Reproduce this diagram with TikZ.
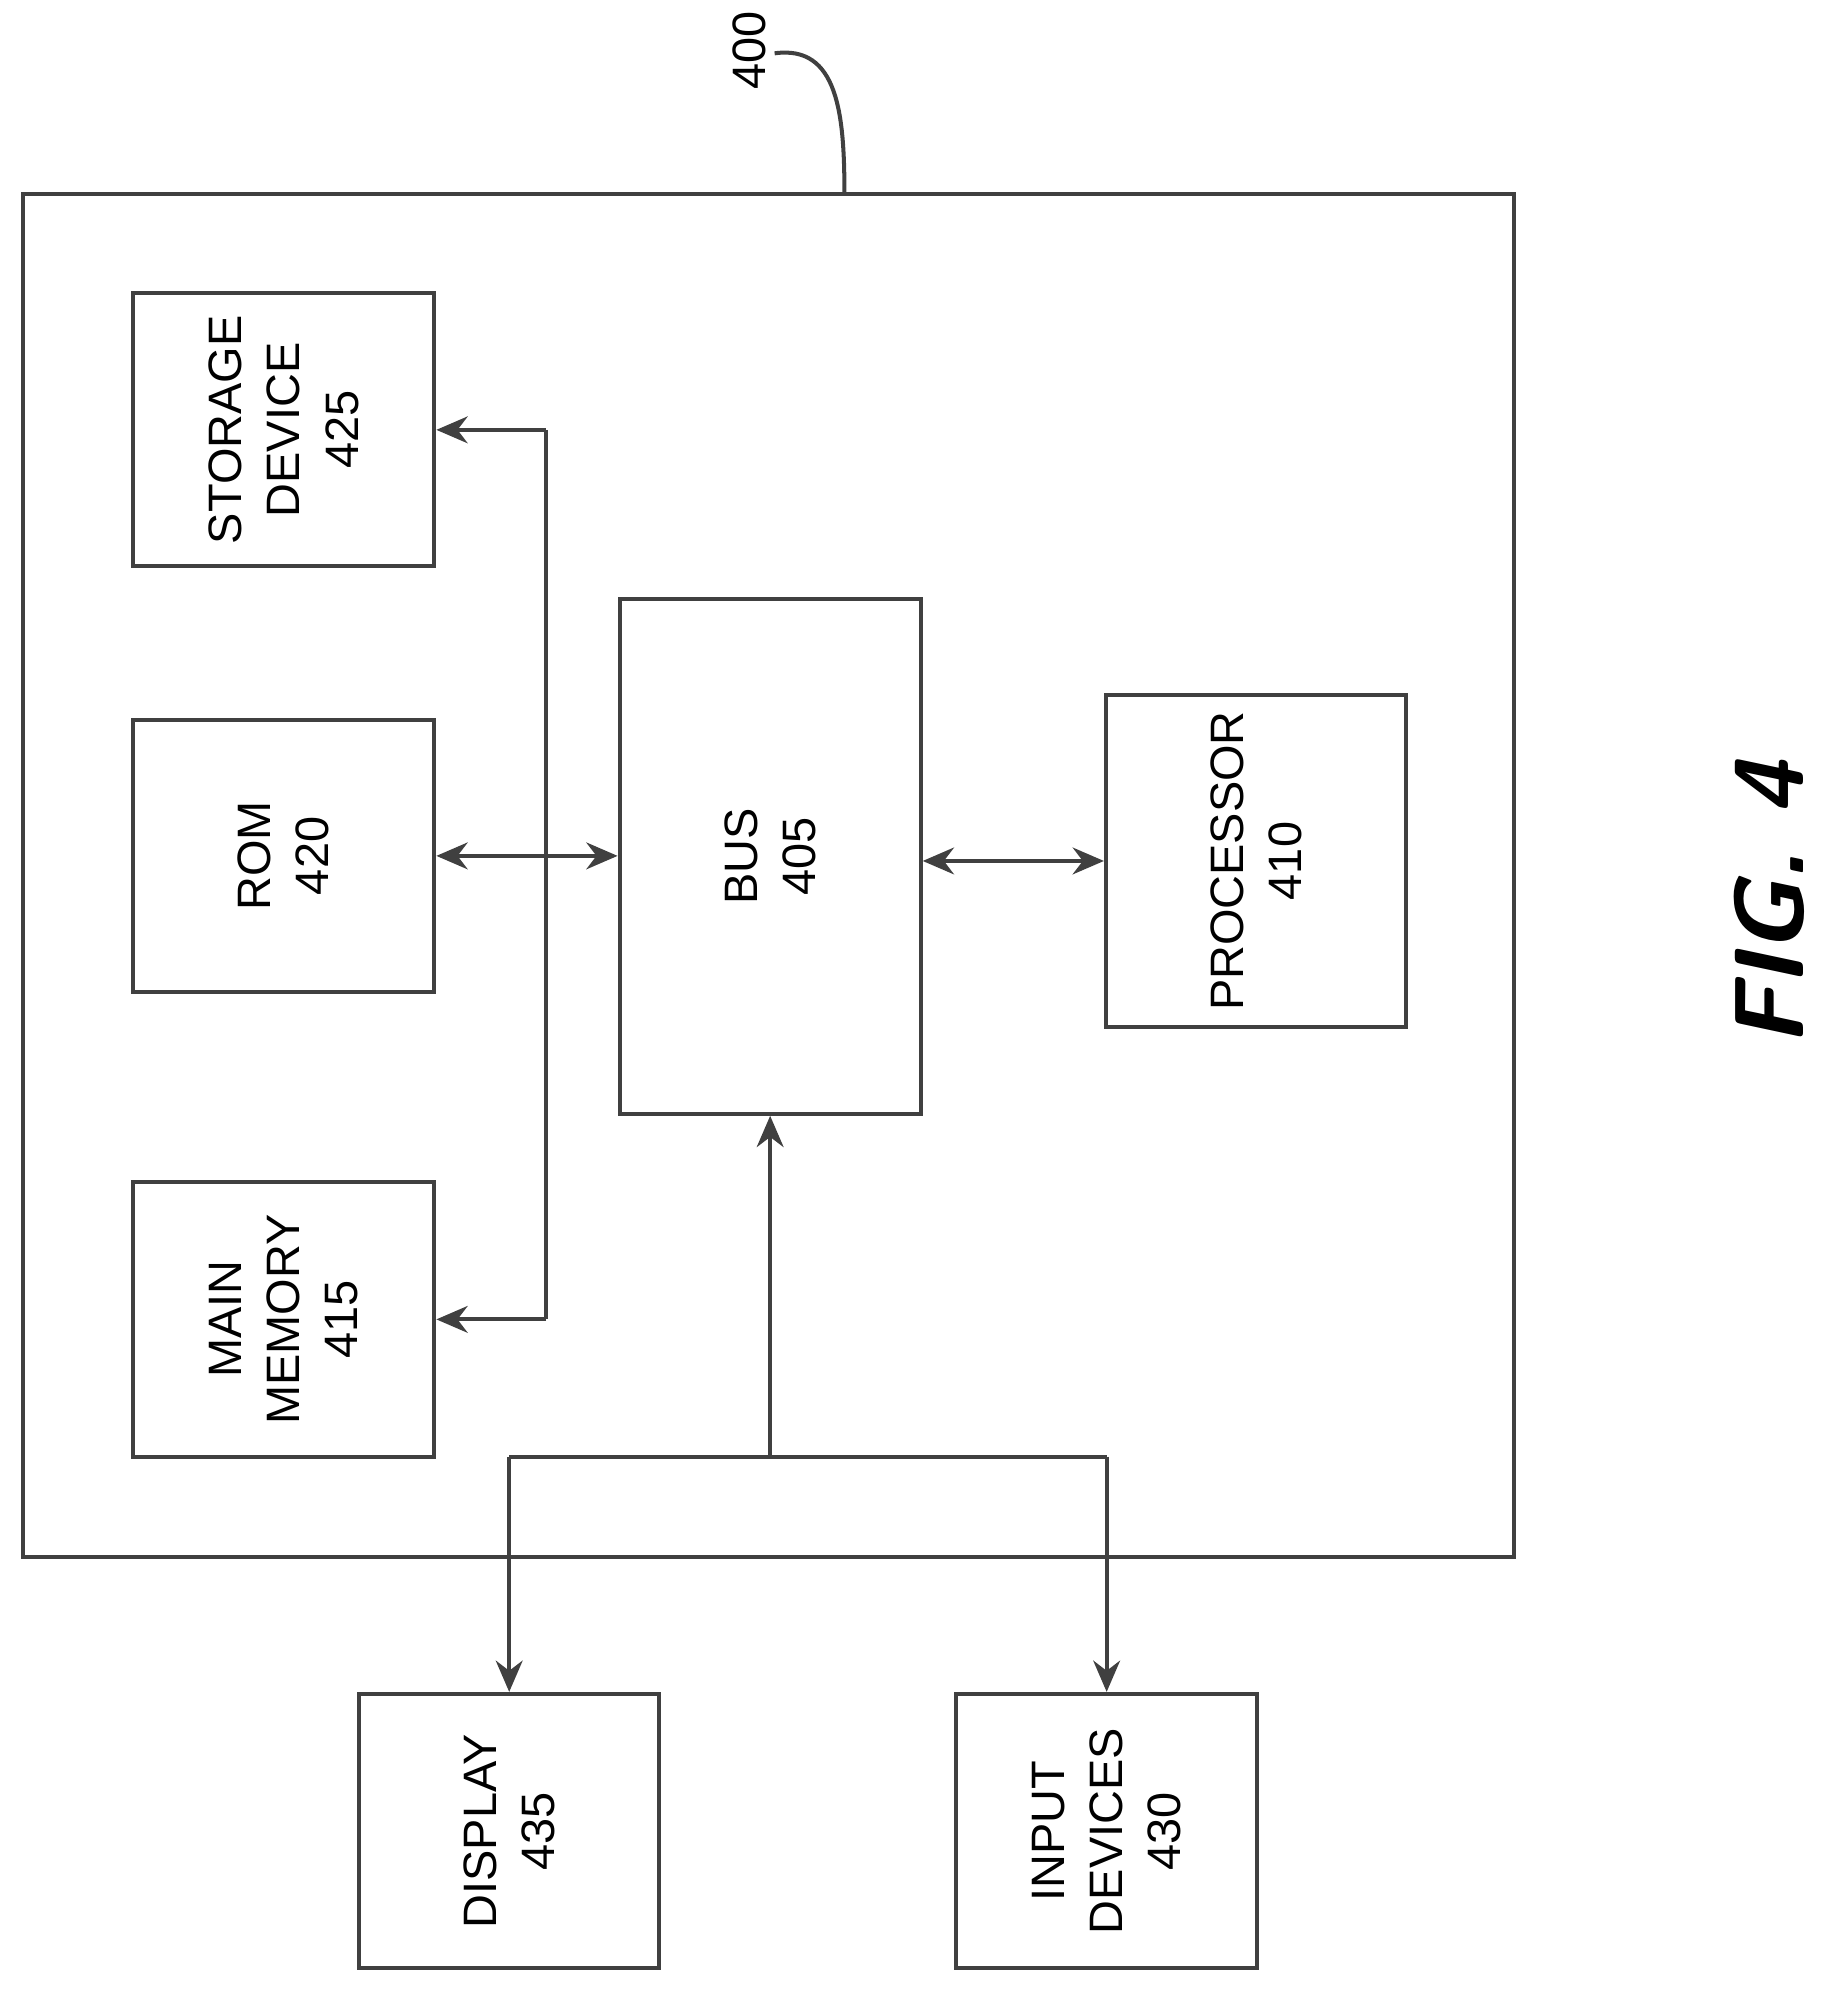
\documentclass[tikz,border=0pt]{standalone}
\usepackage{fontspec}
\setmainfont{Liberation Sans}
\usetikzlibrary{arrows.meta}

\begin{document}
\begin{tikzpicture}[x=0.01cm, y=-0.01cm, line width=0.9pt, draw=black!75,
    blk/.style={draw, inner sep=0pt},
    txt/.style={rotate=90, align=center, font=\fontsize{10.5}{13}\selectfont},
    arr/.style={-{Stealth[length=7pt,width=6pt]}},
    darr/.style={{Stealth[length=7pt,width=6pt]}-{Stealth[length=7pt,width=6pt]}}]
    \useasboundingbox (0,0) rectangle (1443,1575);

    % outer system box
    \draw (18,153) rectangle (1192,1226);
    \node[txt] (lbl) at (590,40) {400};
    \draw (610,42) .. controls (660,35) and (665,90) .. (665,153);

    % blocks
    \node[blk, minimum width=2.37cm, minimum height=2.15cm] (storage) at (223.5,338.5) {};
    \node[txt] at (storage) {STORAGE\\DEVICE\\425};
    \node[blk, minimum width=2.37cm, minimum height=2.14cm] (rom) at (223.5,674) {};
    \node[txt] at (rom) {ROM\\420};
    \node[blk, minimum width=2.37cm, minimum height=2.16cm] (mem) at (223.5,1039) {};
    \node[txt] at (mem) {MAIN\\MEMORY\\415};
    \node[blk, minimum width=2.37cm, minimum height=4.05cm] (bus) at (606.5,674.5) {};
    \node[txt] at (bus) {BUS\\405};
    \node[blk, minimum width=2.36cm, minimum height=2.62cm] (cpu) at (989,678) {};
    \node[txt] at (cpu) {PROCESSOR\\410};
    \node[blk, minimum width=2.36cm, minimum height=2.16cm] (disp) at (401,1442) {};
    \node[txt] at (disp) {DISPLAY\\435};
    \node[blk, minimum width=2.37cm, minimum height=2.16cm] (inp) at (871.5,1442) {};
    \node[txt] at (inp) {INPUT\\DEVICES\\430};

    \node[rotate=90, font=\sffamily\bfseries\itshape\fontsize{22}{26}\selectfont] (fig) at (1393,712) {FIG. 4};

    % junctions
    \coordinate (jt) at (430,338.5);
    \coordinate (jb) at (430,1039);
    \coordinate (hb) at (606.5,1147);
    \coordinate (hl) at (401,1147);
    \coordinate (hr) at (871.5,1147);

    % connectors
    \draw[arr] (jt) -- (storage.east);
    \draw (jt) -- (jb);
    \draw[arr] (jb) -- (mem.east);
    \draw[darr] (rom.east) -- (bus.west |- rom.east);
    \draw[darr] (bus.east |- cpu.west) -- (cpu.west);
    \draw[arr] (hb) -- (bus.south);
    \draw (hl) -- (hr);
    \draw[arr] (hl) -- (disp.north);
    \draw[arr] (hr) -- (inp.north);
\end{tikzpicture}
\end{document}
